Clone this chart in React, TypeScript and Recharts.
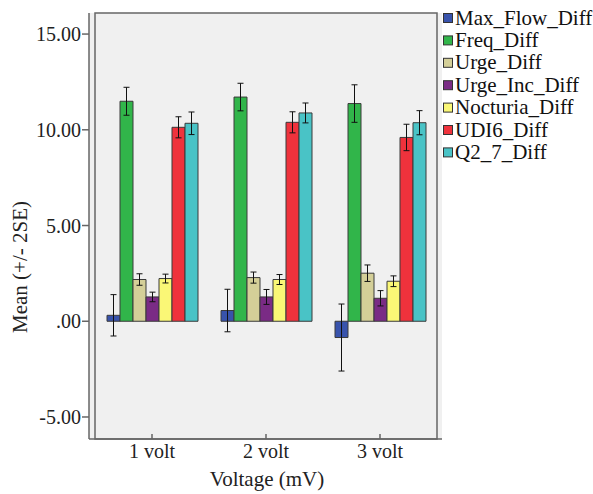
import {
  BarChart,
  Bar,
  XAxis,
  YAxis,
  CartesianGrid,
  ErrorBar,
  Legend,
  ReferenceArea,
} from 'recharts';

const FONT = "'Liberation Serif', serif";

const categories = ['1 volt', '2 volt', '3 volt'];

// means and 2SE half-widths, one entry per voltage
const maxFlow = [0.31, 0.56, -0.85];
const maxFlowErr = [1.08, 1.11, 1.75];
const freq = [11.49, 11.71, 11.37];
const freqErr = [0.73, 0.72, 0.98];
const urge = [2.18, 2.28, 2.51];
const urgeErr = [0.3, 0.29, 0.43];
const urgeInc = [1.27, 1.27, 1.2];
const urgeIncErr = [0.25, 0.39, 0.4];
const nocturia = [2.23, 2.18, 2.09];
const nocturiaErr = [0.23, 0.26, 0.28];
const udi6 = [10.13, 10.39, 9.6];
const udi6Err = [0.55, 0.55, 0.69];
const q27 = [10.34, 10.88, 10.37];
const q27Err = [0.59, 0.52, 0.63];

const yTicks = [-5, 0, 5, 10, 15];

const series = [
  { key: 'Max_Flow_Diff', values: maxFlow, errs: maxFlowErr, color: '#3853AC' },
  { key: 'Freq_Diff', values: freq, errs: freqErr, color: '#31B54A' },
  { key: 'Urge_Diff', values: urge, errs: urgeErr, color: '#D4CF98' },
  { key: 'Urge_Inc_Diff', values: urgeInc, errs: urgeIncErr, color: '#7A2B85' },
  { key: 'Nocturia_Diff', values: nocturia, errs: nocturiaErr, color: '#FAF776' },
  { key: 'UDI6_Diff', values: udi6, errs: udi6Err, color: '#EF323C' },
  { key: 'Q2_7_Diff', values: q27, errs: q27Err, color: '#49C3C6' },
];

const data = categories.map((c, i) => {
  const row: Record<string, any> = { name: c };
  series.forEach((s) => {
    row[s.key] = s.values[i];
    row[s.key + '_err'] = s.errs[i];
  });
  return row;
});

const tickStyle = { fontSize: 20, fill: '#222', fontFamily: FONT };

const fmt = (v: number) => (v === 0 ? '.00' : v.toFixed(2));

// legend drawn as svg so it shares the chart's text rendering
function LegendBox() {
  return (
    <svg width={152} height={170} style={{ display: 'block' }}>
      {series.map((s, i) => (
        <g key={s.key}>
          <rect x={2.5} y={13.5 + i * 22.4} width={9} height={9} fill={s.color} stroke="#333" strokeWidth={1} />
          <text x={14} y={24.5 + i * 22.4} fontSize={21} fontFamily={FONT} fill="#111">
            {s.key}
          </text>
        </g>
      ))}
    </svg>
  );
}

export default function App() {
  return (
    <div style={{ position: 'absolute', left: 0, top: 0, background: '#fff', fontFamily: FONT }}>
      <BarChart
        width={593}
        height={494}
        data={data}
        margin={{ top: 13, right: 151, bottom: 0, left: 0 }}
        barCategoryGap={12}
        barGap={0}
      >
        <CartesianGrid fill="#F0F0F0" horizontal={false} vertical={false} />
        <XAxis
          dataKey="name"
          height={55}
          padding={{ left: 6, right: 5 }}
          tick={tickStyle}
          tickSize={-5}
          tickMargin={10}
          tickLine={{ stroke: '#666', strokeWidth: 1.5 }}
          axisLine={{ stroke: '#666', strokeWidth: 1.5 }}
        />
        <YAxis
          width={89}
          domain={[-6.15, 16.1]}
          ticks={yTicks}
          tickFormatter={fmt}
          tick={tickStyle}
          tickSize={7}
          tickMargin={1}
          tickLine={{ stroke: '#666', strokeWidth: 1.5 }}
          axisLine={{ stroke: '#666', strokeWidth: 1.5 }}
          allowDataOverflow
        />
        <Legend
          layout="vertical"
          align="center"
          verticalAlign="middle"
          wrapperStyle={{ left: 441, top: 0, width: 152 }}
          content={() => <LegendBox />}
        />
        {series.map((s) => (
          <Bar
            key={s.key}
            dataKey={s.key}
            fill={s.color}
            stroke="#3a3a3a"
            strokeWidth={1}
            isAnimationActive={false}
          >
            <ErrorBar dataKey={s.key + '_err'} width={3} stroke="#111" strokeWidth={1} direction="y" />
          </Bar>
        ))}
        <ReferenceArea y1={-6.15} y2={16.1} fill="none" stroke="#666" strokeWidth={1.5} ifOverflow="visible" />
        <text x={267} y={486} textAnchor="middle" fontSize={21} fontFamily={FONT} fill="#222">
          Voltage (mV)
        </text>
        <text
          x={27}
          y={267}
          textAnchor="middle"
          fontSize={21}
          fontFamily={FONT}
          fill="#222"
          transform="rotate(-90 27 267)"
        >
          Mean (+/- 2SE)
        </text>
      </BarChart>
    </div>
  );
}
